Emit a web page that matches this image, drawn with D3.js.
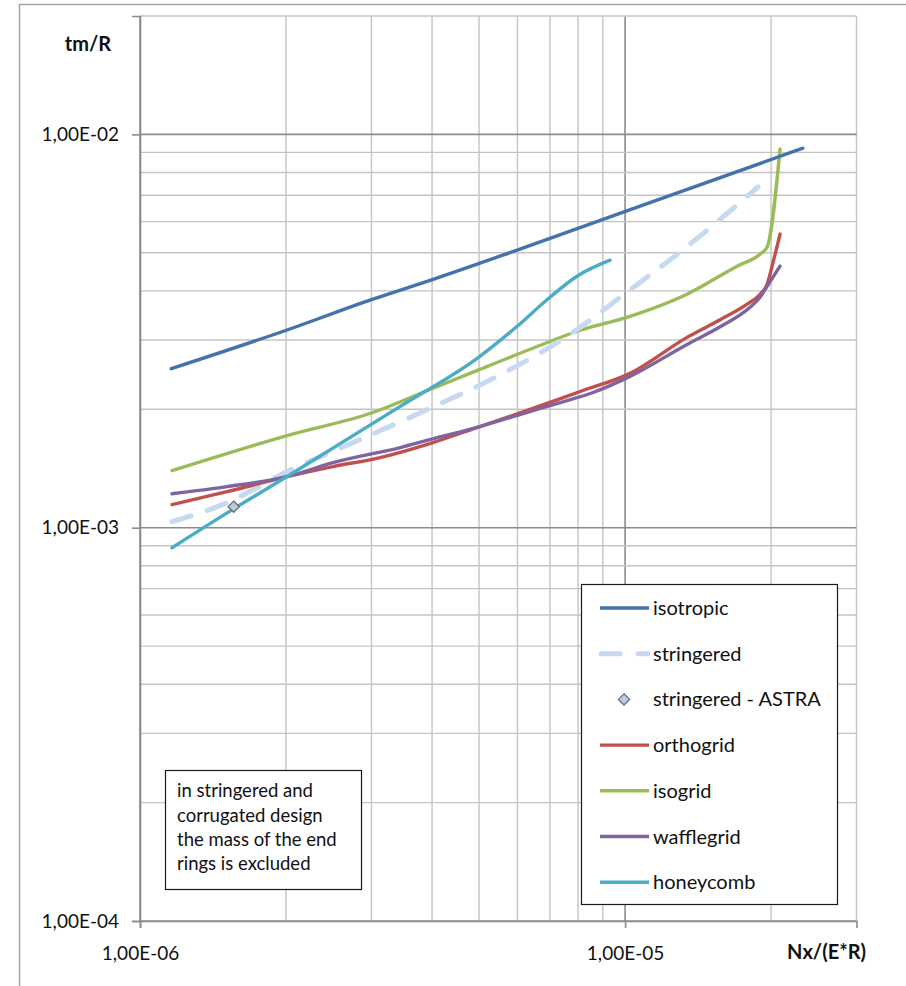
<!DOCTYPE html>
<html>
<head>
<meta charset="utf-8">
<script src="https://cdn.jsdelivr.net/npm/d3@7"></script>
<style>
  html, body { margin: 0; padding: 0; background: #fff; }
  svg { display: block; }
  text { font-family: Lato, "Open Sans", "DejaVu Sans", sans-serif; fill: #111; }
</style>
</head>
<body>
<svg id="chart" width="906" height="986"></svg>
<script>
// Axis ranges and tick values (log-log)
const xDomain = [1e-6, 3e-5];
const yDomain = [1e-4, 2e-2];
const xTickLabels = [1e-6, 1e-5];
const yTickLabels = [1e-4, 1e-3, 1e-2];

// Series: x = Nx/(E*R), y = tm/R
const isotropicX = [1.16e-6, 2.01e-6, 3.02e-6, 4.02e-6, 5.99e-6, 1.074e-5, 2.325e-5];
const isotropicY = [2.537e-3, 3.182e-3, 3.81e-3, 4.28e-3, 5.08e-3, 6.57e-3, 9.22e-3];

const stringeredX = [1.164e-6, 1.497e-6, 2.01e-6, 2.842e-6, 3.833e-6, 5.45e-6, 7.59e-6, 1.009e-5, 1.361e-5, 1.88e-5];
const stringeredY = [1.036e-3, 1.151e-3, 1.389e-3, 1.675e-3, 1.975e-3, 2.425e-3, 3.066e-3, 3.97e-3, 5.26e-3, 7.35e-3];

const astraX = [1.56e-6];
const astraY = [1.131e-3];

const orthogridX = [1.164e-6, 1.512e-6, 2.01e-6, 2.5e-6, 3.125e-6, 3.96e-6, 5.02e-6, 6.37e-6, 8.08e-6, 1.024e-5, 1.342e-5, 1.577e-5, 1.785e-5, 1.898e-5, 1.963e-5, 2.019e-5, 2.087e-5];
const orthogridY = [1.145e-3, 1.235e-3, 1.349e-3, 1.43e-3, 1.508e-3, 1.637e-3, 1.808e-3, 1.998e-3, 2.22e-3, 2.468e-3, 3.047e-3, 3.388e-3, 3.70e-3, 3.923e-3, 4.16e-3, 4.73e-3, 5.58e-3];

const isogridX = [1.164e-6, 2.01e-6, 3.02e-6, 3.96e-6, 5.02e-6, 6.37e-6, 8.08e-6, 1.024e-5, 1.342e-5, 1.702e-5, 1.898e-5, 1.963e-5, 2.087e-5];
const isogridY = [1.397e-3, 1.715e-3, 1.963e-3, 2.246e-3, 2.526e-3, 2.842e-3, 3.177e-3, 3.447e-3, 3.923e-3, 4.624e-3, 4.96e-3, 5.17e-3, 9.18e-3];

const wafflegridX = [1.164e-6, 1.512e-6, 2.01e-6, 2.5e-6, 3.44e-6, 3.96e-6, 5.02e-6, 6.07e-6, 7.35e-6, 8.59e-6, 1.024e-5, 1.342e-5, 1.577e-5, 1.81e-5, 1.898e-5, 1.963e-5, 2.087e-5];
const wafflegridY = [1.22e-3, 1.272e-3, 1.349e-3, 1.464e-3, 1.599e-3, 1.675e-3, 1.808e-3, 1.94e-3, 2.081e-3, 2.207e-3, 2.425e-3, 2.924e-3, 3.251e-3, 3.634e-3, 3.855e-3, 4.11e-3, 4.624e-3];

const honeycombX = [1.164e-6, 1.563e-6, 2.01e-6, 3.44e-6, 5.02e-6, 5.99e-6, 7.0e-6, 7.96e-6, 9.31e-6];
const honeycombY = [8.89e-4, 1.118e-3, 1.349e-3, 2.034e-3, 2.727e-3, 3.251e-3, 3.855e-3, 4.358e-3, 4.788e-3];

const seriesNames = ["isotropic", "stringered", "stringered - ASTRA", "orthogrid", "isogrid", "wafflegrid", "honeycomb"];
const noteLines = ["in stringered and", "corrugated design", "the mass of the end", "rings is excluded"];

// ---------------------------------------------------------------
const svg = d3.select("#chart");
const W = 906, H = 986;
const plot = { left: 140, top: 16, right: 856.5, bottom: 921 };

const x = d3.scaleLog().domain(xDomain).range([plot.left, plot.right]);
const y = d3.scaleLog().domain(yDomain).range([plot.bottom, plot.top]);

const fmt = v => {
  const e = Math.round(Math.log10(v));
  const s = e < 0 ? "-" : "+";
  return "1,00E" + s + String(Math.abs(e)).padStart(2, "0");
};

// Outer chart frame
svg.append("rect")
  .attr("x", 19.5).attr("y", 4.5).attr("width", W + 10).attr("height", H + 10)
  .attr("fill", "none").attr("stroke", "#a6a6a6").attr("stroke-width", 1.5);

// Gridline values: 1..9 x each decade inside the domain
function logSteps(domain) {
  const out = [];
  const lo = Math.floor(Math.log10(domain[0])), hi = Math.ceil(Math.log10(domain[1]));
  for (let e = lo; e <= hi; e++) {
    for (let k = 1; k <= 9; k++) {
      const v = k * Math.pow(10, e);
      if (v >= domain[0] * 0.9999 && v <= domain[1] * 1.0001) out.push({ v, major: k === 1 });
    }
  }
  return out;
}

const grid = svg.append("g");
logSteps(xDomain).forEach(d => {
  grid.append("line")
    .attr("x1", x(d.v)).attr("x2", x(d.v)).attr("y1", plot.top).attr("y2", plot.bottom)
    .attr("stroke", d.major ? "#8c8c8c" : "#c4c4c4").attr("stroke-width", d.major ? 1.6 : 1.4);
});
logSteps(yDomain).forEach(d => {
  grid.append("line")
    .attr("x1", plot.left).attr("x2", plot.right).attr("y1", y(d.v)).attr("y2", y(d.v))
    .attr("stroke", d.major ? "#8c8c8c" : "#c4c4c4").attr("stroke-width", d.major ? 1.6 : 1.4);
});

// Axes
const yAxis = d3.axisLeft(y).tickValues(yTickLabels).tickFormat(fmt).tickSize(8).tickPadding(13);
const xAxis = d3.axisBottom(x).tickValues(xTickLabels).tickFormat(fmt).tickSize(7).tickPadding(19);

const gy = svg.append("g").attr("transform", `translate(${plot.left},0)`).call(yAxis);
const gx = svg.append("g").attr("transform", `translate(0,${plot.bottom})`).call(xAxis);
[gx, gy].forEach(g => {
  g.select(".domain").attr("stroke", "#8c8c8c").attr("stroke-width", 1.6);
  g.selectAll(".tick line").attr("stroke", "#8c8c8c").attr("stroke-width", 1.6);
  g.selectAll(".tick text").attr("font-size", 19).attr("fill", "#111")
    .style("font-family", "Lato, 'Open Sans', sans-serif");
});

// Axis titles
svg.append("text").attr("x", 88).attr("y", 51).attr("text-anchor", "middle")
  .attr("font-size", 20).attr("font-weight", "bold").text("tm/R");
svg.append("text").attr("x", 866).attr("y", 959).attr("text-anchor", "end")
  .attr("font-size", 20).attr("font-weight", "bold").text("Nx/(E*R)");

// Series
const line = d3.line().x(d => x(d[0])).y(d => y(d[1])).curve(d3.curveMonotoneX);
const zip = (a, b) => a.map((v, i) => [v, b[i]]);

const styles = {
  isotropic:  { color: "#4572aa", width: 3.4 },
  stringered: { color: "#c6d9f1", width: 5, dash: "20,17" },
  orthogrid:  { color: "#c0504d", width: 3.4 },
  isogrid:    { color: "#9bbb59", width: 3.4 },
  wafflegrid: { color: "#8064a2", width: 3.4 },
  honeycomb:  { color: "#4bacc6", width: 3.4 }
};

const lines = [
  ["isogrid", zip(isogridX, isogridY)],
  ["stringered", zip(stringeredX, stringeredY)],
  ["isotropic", zip(isotropicX, isotropicY)],
  ["orthogrid", zip(orthogridX, orthogridY)],
  ["wafflegrid", zip(wafflegridX, wafflegridY)],
  ["honeycomb", zip(honeycombX, honeycombY)]
];

const gLines = svg.append("g");
lines.forEach(([name, pts]) => {
  const s = styles[name];
  gLines.append("path").datum(pts)
    .attr("d", line)
    .attr("fill", "none")
    .attr("stroke", s.color)
    .attr("stroke-width", s.width)
    .attr("stroke-linecap", "round")
    .attr("stroke-linejoin", "round")
    .attr("stroke-dasharray", s.dash || null);
});

// ASTRA point (diamond marker)
const diamond = d3.symbol().type(d3.symbolDiamond2).size(80);
svg.append("g").selectAll("path").data(zip(astraX, astraY)).join("path")
  .attr("transform", d => `translate(${x(d[0])},${y(d[1])})`)
  .attr("d", diamond)
  .attr("fill", "#b9cde5").attr("stroke", "#6e6e6e").attr("stroke-width", 1.3);

// Legend
const lg = svg.append("g");
lg.append("rect").attr("x", 581.5).attr("y", 584.5).attr("width", 256).attr("height", 320)
  .attr("fill", "#fff").attr("stroke", "#1a1a1a").attr("stroke-width", 1.2);
const legendKeys = ["isotropic", "stringered", "astra", "orthogrid", "isogrid", "wafflegrid", "honeycomb"];
seriesNames.forEach((name, i) => {
  const cy = 608 + i * 45.7;
  const key = legendKeys[i];
  if (key === "astra") {
    lg.append("path").attr("transform", `translate(624,${cy})`).attr("d", diamond)
      .attr("fill", "#b9cde5").attr("stroke", "#6e6e6e").attr("stroke-width", 1.3);
  } else {
    const s = styles[key];
    if (s.dash) {
      lg.append("line").attr("x1", 601).attr("x2", 620).attr("y1", cy).attr("y2", cy)
        .attr("stroke", s.color).attr("stroke-width", s.width).attr("stroke-linecap", "round");
      lg.append("line").attr("x1", 638).attr("x2", 648).attr("y1", cy).attr("y2", cy)
        .attr("stroke", s.color).attr("stroke-width", s.width).attr("stroke-linecap", "round");
    } else {
      lg.append("line").attr("x1", 600).attr("x2", 649).attr("y1", cy).attr("y2", cy)
        .attr("stroke", s.color).attr("stroke-width", s.width);
    }
  }
  lg.append("text").attr("x", 653).attr("y", cy).attr("dy", "0.35em")
    .attr("font-size", 20).text(name);
});

// Note box
const nb = svg.append("g");
nb.append("rect").attr("x", 165.5).attr("y", 770.5).attr("width", 196).attr("height", 119)
  .attr("fill", "#fff").attr("stroke", "#1a1a1a").attr("stroke-width", 1.2);
noteLines.forEach((t, i) => {
  nb.append("text").attr("x", 177).attr("y", 791 + i * 24.2).attr("dy", "0.35em")
    .attr("font-size", 18.5).text(t);
});
</script>
</body>
</html>
